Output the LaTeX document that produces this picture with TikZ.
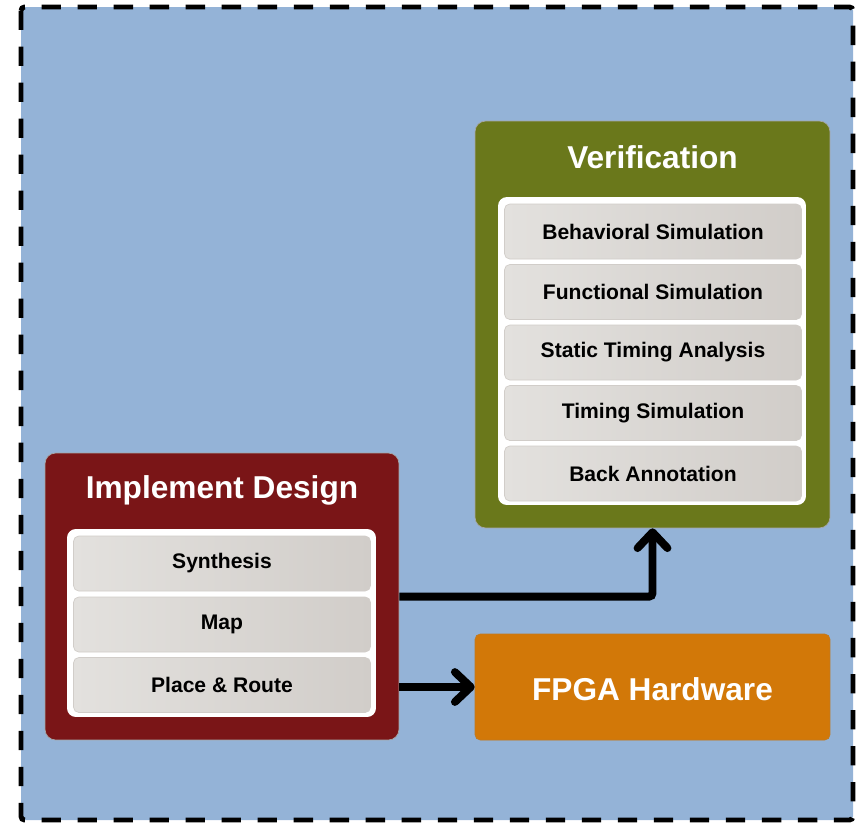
\documentclass[tikz,border=0pt]{standalone}
\usepackage{fontspec}
\setmainfont{Liberation Sans}
\usepackage{tikz}
\usetikzlibrary{positioning, arrows.meta, calc}

\definecolor{fondo}{HTML}{94B3D7}
\definecolor{oliva}{HTML}{6A781B}
\definecolor{granate}{HTML}{7A1517}
\definecolor{naranja}{HTML}{D27808}
\definecolor{grisclaro}{HTML}{E3E1DE}
\definecolor{grisoscuro}{HTML}{D1CDC9}

\begin{document}
\begin{tikzpicture}[x=0.02cm, y=-0.02cm,
        marco/.style={draw=black, fill=fondo, line width=2.8pt, dash pattern=on 11pt off 9.5pt, rounded corners=2pt},
        bloque/.style={rectangle, draw=gray!70, thin, rounded corners=6pt},
        titulo/.style={text=white, font=\fontsize{18}{21}\selectfont\bfseries},
        interior/.style={rectangle, fill=white, rounded corners=5pt},
        paso/.style={rectangle, draw=grisoscuro, left color=grisclaro, right color=grisoscuro, rounded corners=3pt, minimum width=5.94cm, minimum height=1.1cm, font=\fontsize{12}{14}\selectfont\bfseries},
        flecha/.style={line width=4.5pt, -{Straight Barb[length=9pt, width=17pt, round]}}
    ]
        \useasboundingbox (0,0) rectangle (862,822);

        % --- Marco exterior ---
        \draw[marco] (21,7) rectangle (853,820);

        % --- Bloque Verification ---
        \node[bloque, fill=oliva, minimum width=7.1cm, minimum height=8.14cm] (verif) at (652.5,324.5) {};
        \node[titulo] (verifTit) at (652.5,157) {Verification};
        \node[interior, minimum width=6.16cm, minimum height=6.16cm] (verifIn) at (652,351) {};
        \node[paso] (behav) at (653,231.5) {Behavioral Simulation};
        \node[paso] (func) at (653,292) {Functional Simulation};
        \node[paso] (sta) at (653,352.5) {Static Timing Analysis};
        \node[paso] (timing) at (653,413) {Timing Simulation};
        \node[paso] (back) at (653,473.5) {Back Annotation};

        % --- Bloque Implement Design ---
        \node[bloque, fill=granate, minimum width=7.08cm, minimum height=5.74cm] (impl) at (222,596.5) {};
        \node[titulo] (implTit) at (222,490) {Implement Design};
        \node[interior, minimum width=6.18cm, minimum height=3.76cm] (implIn) at (221.5,623) {};
        \node[paso] (synth) at (222,563.5) {Synthesis};
        \node[paso] (map) at (222,624.5) {Map};
        \node[paso] (place) at (222,685) {Place \& Route};

        % --- Bloque FPGA Hardware ---
        \node[bloque, fill=naranja, draw=naranja!80!gray, rounded corners=3pt, minimum width=7.1cm, minimum height=2.12cm] (fpga) at (652.5,687) {};
        \node[titulo] (fpgaTit) at (652.5,689) {FPGA Hardware};

        % ================= FLECHAS =================
        \draw[flecha, rounded corners=2pt] (impl.east |- map.north) -| (verif.south);
        \draw[flecha] (impl.east |- fpga.west) -- (fpga.west);

    \end{tikzpicture}
\end{document}
